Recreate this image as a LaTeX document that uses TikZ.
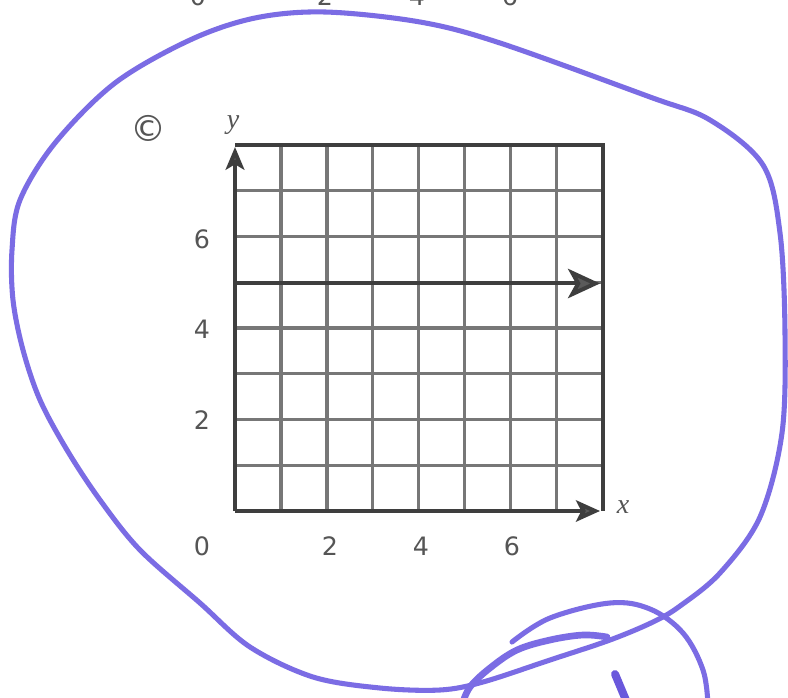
\documentclass[tikz,border=0pt]{standalone}
\usepackage{fontspec}
\setmainfont{DejaVu Sans}
\newfontfamily\serifit{Liberation Serif}
\usetikzlibrary{arrows.meta}
\definecolor{ink}{HTML}{555555}
\definecolor{gridc}{HTML}{777777}
\definecolor{frame}{HTML}{3E3E3E}
\definecolor{tipc}{HTML}{5A5A5A}
\definecolor{pen}{HTML}{7B6CE4}
\definecolor{pendark}{HTML}{6A58DC}
\tikzset{
  gridline/.style={draw=gridc, line width=2.4pt},
  framebox/.style={draw=frame, line width=3.2pt},
  axisline/.style={draw=frame, line width=3pt},
  ticklab/.style={text=ink, font=\fontsize{19}{19}\selectfont, inner sep=0pt},
  varlab/.style={text=ink, font=\serifit\itshape\fontsize{21}{21}\selectfont, inner sep=0pt},
  stroke/.style={draw=pen, line width=3.8pt, line cap=round, line join=round},
}
\begin{document}
\begin{tikzpicture}[x=0.75pt, y=-0.75pt]
\useasboundingbox (0,0) rectangle (788,698);
\clip (0,0) rectangle (788,698);
\fill[white] (0,0) rectangle (788,698);
% partially visible labels at the top
\node[ticklab, anchor=base] (t0) at (198,6) {0};
\node[ticklab, anchor=base] (t2) at (325,6) {2};
\node[ticklab, anchor=base] (t4) at (417,6) {4};
\node[ticklab, anchor=base] (t6) at (510,6) {6};
% grid
\coordinate (O) at (235,511);
\coordinate (TL) at (235,145);
\coordinate (TR) at (602.7,145);
\coordinate (BR) at (602.7,511);
\foreach \i in {1,...,7}{
  \draw[gridline] ({235+\i*45.96},145) -- ({235+\i*45.96},511);
  \draw[gridline] (235,{511-\i*45.75}) -- (602.7,{511-\i*45.75});
}
\draw[framebox] (TL) -- (TR) -- (BR);
% axes
\coordinate (ytip) at (235,147);
\coordinate (xtip) at (600,511);
\draw[axisline, -{Stealth[length=17pt,width=14pt,inset=4pt,fill=tipc]}] (O) -- (ytip);
\draw[axisline, -{Stealth[length=18pt,width=16pt,inset=4pt,fill=tipc]}] (O) -- (xtip);
% line y = 5
\coordinate (hstart) at (235,283.5);
\coordinate (hend) at (600,283.5);
\draw[axisline, -{Stealth[length=24pt,width=22pt,inset=6pt,fill=tipc]}] (hstart) -- (hend);
% labels
\node[text=ink, font=\fontsize{27}{27}\selectfont, inner sep=0pt] (lc) at (148,128) {©};
\node[varlab] (ly) at (233,125) {y};
\node[varlab] (lx) at (623,507) {x};
\node[ticklab] (l6) at (202,239) {6};
\node[ticklab] (l4) at (202,329) {4};
\node[ticklab] (l2) at (202,420) {2};
\node[ticklab] (b0) at (202,546) {0};
\node[ticklab] (b2) at (330,546) {2};
\node[ticklab] (b4) at (421,546) {4};
\node[ticklab] (b6) at (512,546) {6};
% hand-drawn purple loop
\draw[stroke] plot[smooth cycle, tension=0.55] coordinates {
  (763,165) (780,233) (785,333) (782,433) (760,517) (720,573) (680,606)
  (653,622) (610,640) (550,660) (483,682) (440,690) (380,688) (313,677)
  (250,647) (200,603) (140,550) (100,500) (67,450) (40,400) (23,350)
  (13,300) (12,250) (20,200) (55,143) (115,83) (190,40) (255,18) (325,12)
  (420,22) (500,43) (650,97) (710,120)};
% arc stroke
\draw[stroke] plot[smooth, tension=0.6] coordinates {
  (512,642) (550,618) (610,603) (650,609) (683,633) (703,670) (708,705)};
% thick stroke
\draw[stroke, line width=5pt] plot[smooth, tension=0.6] coordinates {
  (607,637) (583,635) (550,640) (517,650) (490,668) (470,687) (462,705)};
% short dark stroke
\draw[stroke, draw=pendark, line width=6pt] (615,674) -- (628,705);
\end{tikzpicture}
\end{document}
